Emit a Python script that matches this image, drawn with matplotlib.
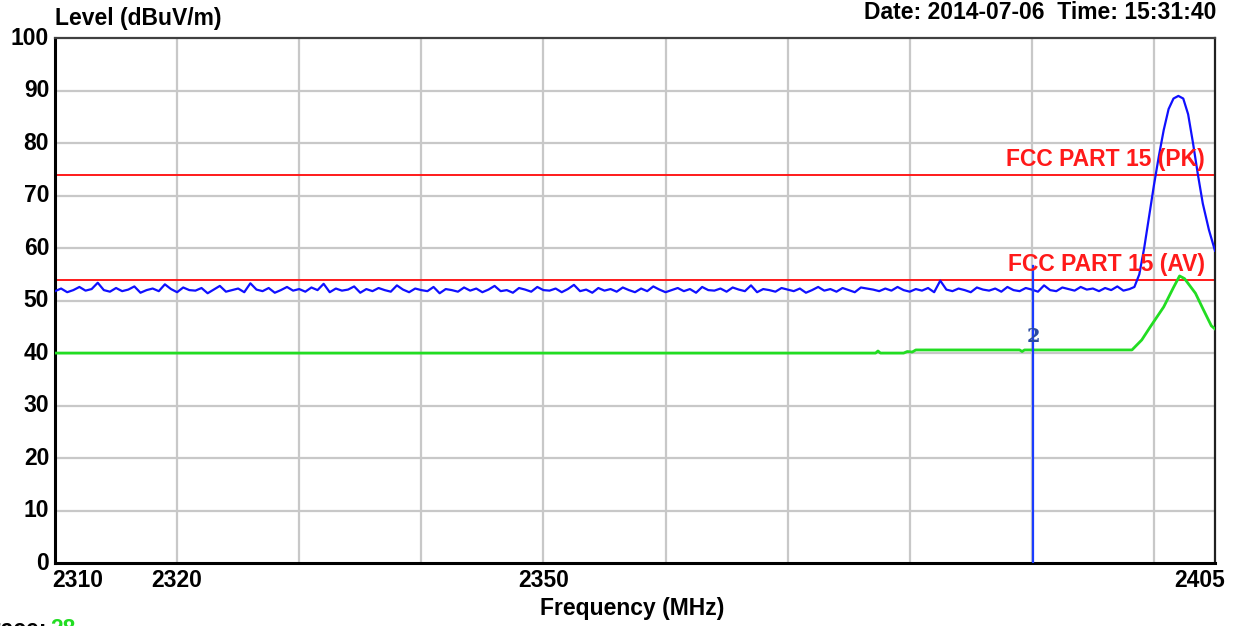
import numpy as np
import matplotlib.pyplot as plt

plt.rcParams['font.family'] = ['Liberation Sans', 'DejaVu Sans']

# peak trace, noise floor part (one reading per 0.5 MHz from 2310 to 2398)
pk_noise = [
    51.8, 52.3, 51.6, 52.0, 52.6, 51.9, 52.2, 53.4, 52.0, 51.7,
    52.4, 51.8, 52.1, 52.7, 51.5, 52.0, 52.3, 51.8, 53.1, 52.2,
    51.6, 52.5, 52.0, 51.9, 52.4, 51.4, 52.1, 52.8, 51.7, 52.0,
    52.3, 51.6, 53.3, 52.1, 51.8, 52.4, 51.5, 52.0, 52.6, 51.9,
    52.2, 51.7, 52.5, 52.0, 53.2, 51.6, 52.3, 51.9, 52.1, 52.7,
    51.5, 52.2, 51.8, 52.4, 52.0, 51.7, 52.9, 52.1, 51.6, 52.3,
    52.0, 51.8, 52.6, 51.4, 52.2, 52.0, 51.7, 52.5, 51.9, 52.3,
    51.6, 52.1, 52.8, 51.8, 52.0, 51.5, 52.4, 52.1, 51.7, 52.6,
    52.0, 51.9, 52.3, 51.6, 52.2, 53.0, 51.8, 52.1, 51.5, 52.4,
    51.9, 52.2, 51.7, 52.5, 52.0, 51.6, 52.3, 51.8, 52.7, 52.1,
    51.6, 52.0, 52.4, 51.8, 52.2, 51.5, 52.6, 52.0, 51.9, 52.3,
    51.7, 52.5, 52.1, 51.8, 52.9, 51.6, 52.2, 52.0, 51.7, 52.4,
    52.1, 51.8, 52.3, 51.5, 52.0, 52.6, 51.9, 52.2, 51.7, 52.4,
    52.0, 51.6, 52.5, 52.3, 52.1, 51.8, 52.3, 51.9, 52.6, 52.0,
    51.7, 52.2, 51.9, 52.4, 51.6, 53.8, 52.1, 51.8, 52.3, 52.0,
    51.6, 52.5, 52.1, 51.9, 52.3, 51.7, 52.6, 52.0, 51.8, 52.4,
    52.1, 51.7, 52.9, 52.0, 51.8, 52.5, 52.2, 51.9, 52.6, 52.1,
    52.3, 51.8, 52.4, 52.0, 52.7, 51.9, 52.2,
]
pk_noise_freq = np.linspace(2310, 2398, len(pk_noise))

# peak trace, signal part
pk_sig_freq = [2398.4, 2398.8, 2399.2, 2399.6, 2400.0, 2400.4, 2400.8, 2401.2,
               2401.6, 2402.0, 2402.4, 2402.8, 2403.2, 2403.6, 2404.0, 2404.5, 2405.0]
pk_sig = [52.6, 55.0, 60.0, 66.0, 72.0, 77.5, 82.5, 86.5,
          88.5, 89.0, 88.5, 85.5, 80.0, 74.0, 68.5, 63.5, 59.5]

# average trace
av_freq = [2310.0, 2377.2, 2377.4, 2377.6, 2379.5, 2379.8, 2380.2, 2380.5, 2389.0,
           2389.2, 2389.4, 2398.2, 2399.0, 2399.7, 2400.8, 2401.6, 2402.1, 2402.5,
           2403.4, 2404.0, 2404.7, 2405.0]
av = [40.0, 40.0, 40.4, 40.0, 40.0, 40.3, 40.2, 40.6, 40.6,
      40.3, 40.6, 40.6, 42.5, 45.0, 48.8, 52.5, 54.7, 54.2,
      51.4, 48.5, 45.2, 44.6]

limit_pk = 74
limit_av = 54
marker_freq = 2390.1
marker_level = 56.5

xticks = [2310, 2320, 2350, 2405]
yticks = list(range(0, 101, 10))

fs = 16.5

fig = plt.figure(figsize=(12.5, 6.26), dpi=100)
ax = fig.add_axes([0.044, 0.1006, 0.928, 0.8384])

for f in range(2320, 2405, 10):
    ax.axvline(f, color='#c8c8c8', lw=1.6, zorder=1)
for y in range(10, 100, 10):
    ax.axhline(y, color='#c8c8c8', lw=1.6, zorder=1)

ax.axhline(limit_pk, color='#ff1a1a', lw=1.4, zorder=2)
ax.axhline(limit_av, color='#ff1a1a', lw=1.4, zorder=2)

ax.plot(list(pk_noise_freq) + pk_sig_freq, pk_noise + pk_sig, color='#1010ff', lw=1.6, zorder=4)
ax.plot(av_freq, av, color='#22dd22', lw=2.0, zorder=3)

ax.plot([marker_freq, marker_freq], [0, marker_level], color='#1a3cff', lw=1.6, zorder=5)
ax.text(marker_freq, 43, '2', color='#2a4aa0', fontsize=14, fontweight='bold',
        family='DejaVu Serif', ha='center', va='center', zorder=6)

ax.text(2404.2, limit_pk + 0.6, 'FCC PART 15 (PK)', color='#ff1a1a', fontsize=fs,
        fontweight='bold', ha='right', va='bottom', zorder=6)
ax.text(2404.2, limit_av + 0.6, 'FCC PART 15 (AV)', color='#ff1a1a', fontsize=fs,
        fontweight='bold', ha='right', va='bottom', zorder=6)

ax.set_xlim(2310, 2405)
ax.set_ylim(0, 100)
ax.set_xticks(xticks)
ax.set_yticks(yticks)
ax.set_xticklabels([])
ax.set_yticklabels([])
ax.tick_params(length=0)

for y in yticks:
    ax.text(-0.005, y / 100, str(y), transform=ax.transAxes, ha='right', va='center',
            fontsize=fs, fontweight='bold')
for x in xticks:
    ha = 'center'
    xx = x
    if x == 2310:
        ha = 'left'
        xx = x - 0.2
    elif x == 2405:
        ha = 'right'
        xx = x + 0.8
    ax.text(xx, -1.2, str(x), ha=ha, va='top', fontsize=fs, fontweight='bold')

ax.spines['left'].set_linewidth(2.2)
ax.spines['bottom'].set_linewidth(2.2)
ax.spines['top'].set_linewidth(1.6)
ax.spines['right'].set_linewidth(1.6)
ax.spines['top'].set_color('#404040')
ax.spines['right'].set_color('#202020')

fig.text(0.044, 0.952, 'Level (dBuV/m)', fontsize=fs, fontweight='bold', ha='left', va='bottom')
fig.text(0.973, 0.962, 'Date: 2014-07-06  Time: 15:31:40', fontsize=fs, fontweight='bold',
         ha='right', va='bottom')
fig.text(0.506, 0.010, 'Frequency (MHz)', fontsize=fs, fontweight='bold', ha='center', va='bottom')
fig.text(0.038, 0.0128, 'Trace:', fontsize=fs, fontweight='bold', ha='right', va='top')
fig.text(0.040, 0.0128, '28', fontsize=fs, fontweight='bold', ha='left', va='top', color='#22dd22')

fig.savefig('out.png', dpi=100)
